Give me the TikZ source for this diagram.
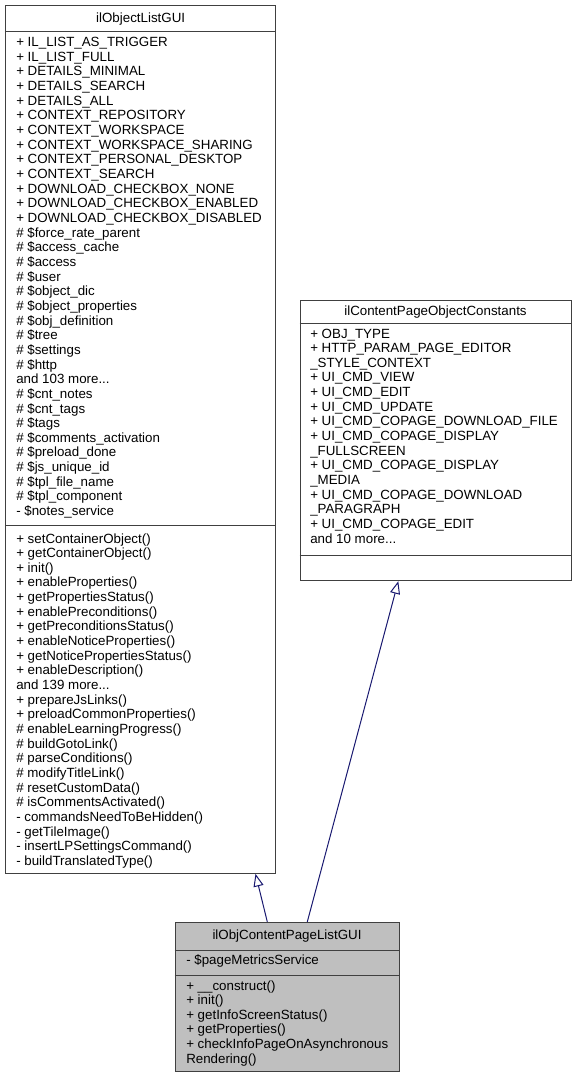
\documentclass[tikz,border=0pt]{standalone}
\usepackage{fontspec}
\setmainfont{Liberation Sans}
\usetikzlibrary{arrows.meta}
\definecolor{edgecol}{HTML}{191970}
\definecolor{maingray}{HTML}{BFBFBF}
\definecolor{boxline}{HTML}{404040}
\newcommand\tdots{...}
\begin{document}
\begin{tikzpicture}[x=0.75pt,y=-0.75pt,
  txt/.style={anchor=base west, inner sep=0pt, font=\fontsize{10}{12}\selectfont},
  ttl/.style={anchor=base, inner sep=0pt, font=\fontsize{10}{12}\selectfont},
  classbox/.style={draw=boxline, line width=0.75pt, rectangle, inner sep=0pt},
  divider/.style={draw=boxline, line width=0.75pt},
  inherit/.style={draw=edgecol, line width=0.75pt, -{Triangle[open, length=9.5pt, width=7.5pt]}}]
\useasboundingbox (0,0) rectangle (576,1079);

% ---------- ilObjectListGUI ----------
\node[classbox, fill=white, minimum width=203pt, minimum height=651pt] (objlist) at (140.65,439.3) {};
\node[ttl] (objlistT) at (140.65,22.5) {ilObjectListGUI};
\draw[divider] (objlist.west |- 0,31.7) -- (objlist.east |- 0,31.7);
\draw[divider] (objlist.west |- 0,525.5) -- (objlist.east |- 0,525.5);
\foreach \t [count=\i] in {
 + IL\_LIST\_AS\_TRIGGER, + IL\_LIST\_FULL, + DETAILS\_MINIMAL, + DETAILS\_SEARCH,
 + DETAILS\_ALL, + CONTEXT\_REPOSITORY, + CONTEXT\_WORKSPACE, + CONTEXT\_WORKSPACE\_SHARING,
 + CONTEXT\_PERSONAL\_DESKTOP, + CONTEXT\_SEARCH, + DOWNLOAD\_CHECKBOX\_NONE,
 + DOWNLOAD\_CHECKBOX\_ENABLED, + DOWNLOAD\_CHECKBOX\_DISABLED, \# \$force\_rate\_parent,
 \# \$access\_cache, \# \$access, \# \$user, \# \$object\_dic, \# \$object\_properties,
 \# \$obj\_definition, \# \$tree, \# \$settings, \# \$http, and 103 more\tdots,
 \# \$cnt\_notes, \# \$cnt\_tags, \# \$tags, \# \$comments\_activation, \# \$preload\_done,
 \# \$js\_unique\_id, \# \$tpl\_file\_name, \# \$tpl\_component, - \$notes\_service}
 \node[txt] (olA\i) at (16,{46.5+(\i-1)*14.66}) {\t};
\foreach \t [count=\i] in {
 + setContainerObject(), + getContainerObject(), + init(), + enableProperties(),
 + getPropertiesStatus(), + enablePreconditions(), + getPreconditionsStatus(),
 + enableNoticeProperties(), + getNoticePropertiesStatus(), + enableDescription(),
 and 139 more\tdots, + prepareJsLinks(), + preloadCommonProperties(),
 \# enableLearningProgress(), \# buildGotoLink(), \# parseConditions(),
 \# modifyTitleLink(), \# resetCustomData(), \# isCommentsActivated(),
 - commandsNeedToBeHidden(), - getTileImage(), - insertLPSettingsCommand(),
 - buildTranslatedType()}
 \node[txt] (olM\i) at (16,{543+(\i-1)*14.66}) {\t};

% ---------- ilContentPageObjectConstants ----------
\node[classbox, fill=white, minimum width=203.25pt, minimum height=210.5pt] (consts) at (435.5,440.35) {};
\node[ttl] (constsT) at (435.5,315.5) {ilContentPageObjectConstants};
\draw[divider] (consts.west |- 0,323) -- (consts.east |- 0,323);
\draw[divider] (consts.west |- 0,555.7) -- (consts.east |- 0,555.7);
\foreach \t [count=\i] in {
 + OBJ\_TYPE, + HTTP\_PARAM\_PAGE\_EDITOR, \_STYLE\_CONTEXT, + UI\_CMD\_VIEW,
 + UI\_CMD\_EDIT, + UI\_CMD\_UPDATE, + UI\_CMD\_COPAGE\_DOWNLOAD\_FILE,
 + UI\_CMD\_COPAGE\_DISPLAY, \_FULLSCREEN, + UI\_CMD\_COPAGE\_DISPLAY, \_MEDIA,
 + UI\_CMD\_COPAGE\_DOWNLOAD, \_PARAGRAPH, + UI\_CMD\_COPAGE\_EDIT, and 10 more\tdots}
 \node[txt] (cA\i) at (310,{338+(\i-1)*14.66}) {\t};

% ---------- ilObjContentPageListGUI ----------
\node[classbox, fill=maingray, minimum width=168pt, minimum height=112pt] (main) at (287,997) {};
\node[ttl] (mainT) at (287,939) {ilObjContentPageListGUI};
\draw[divider] (main.west |- 0,950.7) -- (main.east |- 0,950.7);
\draw[divider] (main.west |- 0,975) -- (main.east |- 0,975);
\node[txt] (mA1) at (186,964.3) {- \$pageMetricsService};
\foreach \t [count=\i] in {
 + \_\_construct(), + init(), + getInfoScreenStatus(), + getProperties(),
 + checkInfoPageOnAsynchronous, Rendering()}
 \node[txt] (mM\i) at (186,{990+(\i-1)*14.66}) {\t};

% ---------- inheritance ----------
\draw[inherit] (main.north -| 267.3,0) -- (objlist.south -| 255.5,0);
\draw[inherit] (main.north -| 307.3,0) -- (consts.south -| 398.3,0);
\end{tikzpicture}
\end{document}
